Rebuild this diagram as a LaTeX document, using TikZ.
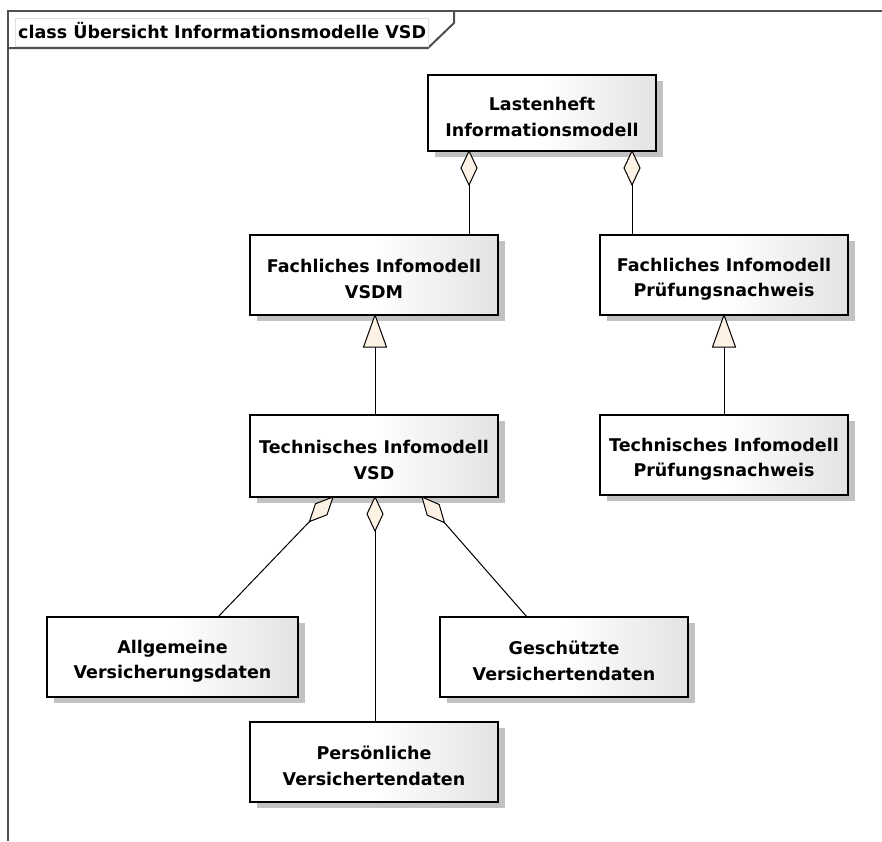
\documentclass[tikz,border=0pt]{standalone}
\usepackage{fontspec}
\setmainfont{DejaVu Sans}
\usetikzlibrary{calc,shadows}
\definecolor{cream}{HTML}{FCF1E2}
\definecolor{framegray}{HTML}{505050}
\newcommand\aggrto[2]{%
  \coordinate (dM) at ($(#1)!17pt!(#2)$);
  \coordinate (dE) at ($(#1)!34pt!(#2)$);
  \draw[conn] (dE) -- (#2);
  \draw[aggr] (#1) -- ($(dM)!8pt!90:(#2)$) -- (dE) -- ($(dM)!8pt!-90:(#2)$) -- cycle;
}
\newcommand\genfrom[2]{%
  \coordinate (gM) at ($(#1)!32pt!(#2)$);
  \draw[conn] (gM) -- (#2);
  \draw[aggr] (#1) -- ($(gM)!11.5pt!90:(#2)$) -- ($(gM)!11.5pt!-90:(#2)$) -- cycle;
}
\newcommand\dnstrut{\rule{0pt}{21.5pt}}
\begin{document}
\begin{tikzpicture}[x=1pt,y=-1pt,
  cls/.style={draw=black, line width=1.3pt, left color=white, right color=black!11, middle color=white,
    drop shadow={shadow xshift=7pt, shadow yshift=-6pt, fill=black!24, opacity=1},
    font=\fontsize{17.5}{25.7}\selectfont\bfseries, align=center, inner sep=0pt, outer sep=0pt},
  conn/.style={draw=black, line width=1pt},
  aggr/.style={draw=black, line width=1pt, fill=cream, line join=miter},
  framel/.style={draw=framegray, line width=2pt},
]
\useasboundingbox (0,0) rectangle (882,841);
\fill[white] (0,0) rectangle (882,841);

% frame
\draw[framel] (8,841) -- (8,11) -- (882,11);
\draw[framel] (8,48) -- (428,48) -- (454,23) -- (454,11);
\draw[black!12, line width=0.8pt] (15,18) rectangle (428,46);
\node[font=\fontsize{17.5}{20}\selectfont\bfseries, anchor=west, inner sep=0pt] (title) at (18,31) {class Übersicht Informationsmodelle VSD};

% classes
\node[cls, minimum width=228pt, minimum height=76pt] (last) at (542,113) {\dnstrut Lastenheft\\Informationsmodell};
\node[cls, minimum width=248pt, minimum height=80pt] (fvsdm) at (374,275) {\dnstrut Fachliches Infomodell\\VSDM};
\node[cls, minimum width=248pt, minimum height=80pt] (fpn) at (724,275) {\dnstrut Fachliches Infomodell\\Prüfungsnachweis};
\node[cls, minimum width=248pt, minimum height=82pt] (tvsd) at (374,456) {\dnstrut Technisches Infomodell\\VSD};
\node[cls, minimum width=248pt, minimum height=80pt] (tpn) at (724,455) {\dnstrut Technisches Infomodell\\Prüfungsnachweis};
\node[cls, minimum width=251pt, minimum height=80pt] (allg) at (172.5,657) {\dnstrut Allgemeine\\Versicherungsdaten};
\node[cls, minimum width=248pt, minimum height=80pt] (gesch) at (564,657) {\dnstrut Geschützte\\Versichertendaten};
\node[cls, minimum width=248pt, minimum height=80pt] (pers) at (374,762) {\dnstrut Persönliche\\Versichertendaten};

% attachment points
\coordinate (l1) at ($(last.south west)+(41,0)$);
\coordinate (f1) at (l1 |- fvsdm.north);
\coordinate (l2) at ($(last.south west)+(204,0)$);
\coordinate (f2) at (l2 |- fpn.north);
\coordinate (g1t) at ($(fvsdm.south west)+(125,0)$);
\coordinate (g1b) at (g1t |- tvsd.north);
\coordinate (g2t) at ($(fpn.south west)+(124,0)$);
\coordinate (g2b) at (g2t |- tpn.north);
\coordinate (t1) at ($(tvsd.south west)+(83,0)$);
\coordinate (a1) at ($(allg.north west)+(171,0)$);
\coordinate (t2) at ($(tvsd.south west)+(125,0)$);
\coordinate (p1) at (t2 |- pers.north);
\coordinate (t3) at ($(tvsd.south west)+(172,0)$);
\coordinate (a3) at ($(gesch.north west)+(87,0)$);

% connectors
\aggrto{l1}{f1}
\aggrto{l2}{f2}
\genfrom{g1t}{g1b}
\genfrom{g2t}{g2b}
\aggrto{t1}{a1}
\aggrto{t2}{p1}
\aggrto{t3}{a3}
\end{tikzpicture}
\end{document}
